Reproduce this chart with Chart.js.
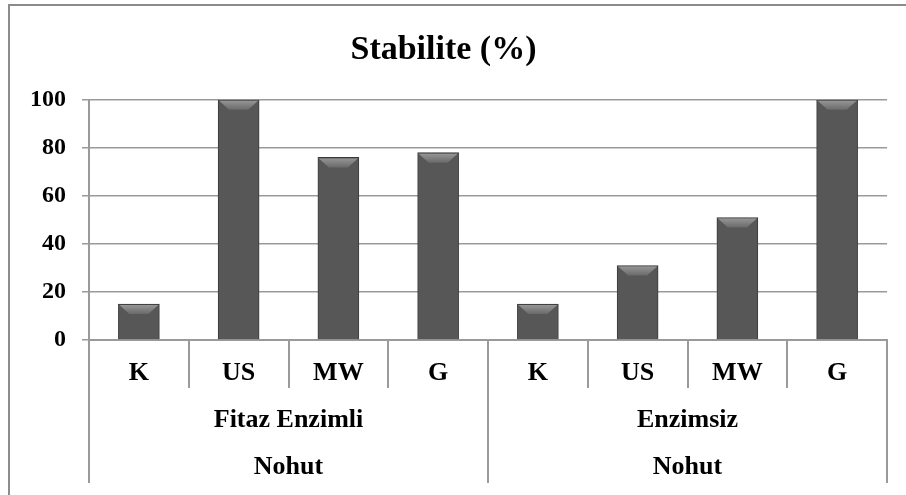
<!DOCTYPE html>
<html lang="en">
<head>
    <meta charset="UTF-8">
    <title>Stabilite (%)</title>
    <style>
        body {
            margin: 0;
            padding: 0;
            background: #fff;
        }
        .frame {
            position: absolute;
            left: 8px;
            top: 4px;
            width: 910px;
            height: 500px;
            border-left: 2px solid #8c8c8c;
            border-top: 2px solid #8c8c8c;
        }
        .wrap {
            position: absolute;
            left: 0;
            top: 0;
            width: 906px;
            height: 495px;
        }
    </style>
</head>
<body>
    <div class="frame"></div>
    <div class="wrap"><canvas id="chart"></canvas></div>

    <script src="https://cdn.jsdelivr.net/npm/chart.js@4.4.1/dist/chart.umd.min.js"></script>
    <script>
        // data
        const categories = ['K', 'US', 'MW', 'G', 'K', 'US', 'MW', 'G'];
        const groups = ['Fitaz Enzimli', 'Enzimsiz'];
        const outerGroup = 'Nohut';
        const groupSize = 4;
        const stabilite = [15, 100, 76, 78, 15, 31, 51, 100];
        const yTicks = [0, 20, 40, 60, 80, 100];

        const serif = '"Liberation Serif", "Times New Roman", serif';
        const lineGray = '#9a9a9a';

        // horizontal gradient for the bars, darker at the edges
        function barFill(context) {
            const el = context.element;
            const chart = context.chart;
            if (!el || !el.width) return '#575757';
            const x0 = el.x - el.width / 2;
            const g = chart.ctx.createLinearGradient(x0, 0, x0 + el.width, 0);
            g.addColorStop(0, '#3d3d3d');
            g.addColorStop(0.12, '#555555');
            g.addColorStop(0.5, '#5e5e5e');
            g.addColorStop(0.88, '#555555');
            g.addColorStop(1, '#3d3d3d');
            return g;
        }

        // bevel highlight on top of each bar
        const bevelPlugin = {
            id: 'bevel',
            afterDatasetsDraw(chart) {
                const ctx = chart.ctx;
                chart.getDatasetMeta(0).data.forEach(function(bar) {
                    const w = bar.width;
                    const left = bar.x - w / 2;
                    const top = bar.y;
                    const d = Math.min(10, (bar.base - bar.y) / 2);
                    const g = ctx.createLinearGradient(0, top, 0, top + d);
                    g.addColorStop(0, '#9a9a9a');
                    g.addColorStop(1, '#6a6a6a');
                    ctx.save();
                    ctx.fillStyle = g;
                    ctx.beginPath();
                    ctx.moveTo(left + 1, top + 1);
                    ctx.lineTo(left + w - 1, top + 1);
                    ctx.lineTo(left + w - 1 - d, top + d);
                    ctx.lineTo(left + 1 + d, top + d);
                    ctx.closePath();
                    ctx.fill();
                    ctx.restore();
                });
            }
        };

        // group labels and long separators under the category axis
        const groupAxisPlugin = {
            id: 'groupAxis',
            afterDraw(chart) {
                const ctx = chart.ctx;
                const xs = chart.scales.x;
                const half = (xs.getPixelForValue(1) - xs.getPixelForValue(0)) / 2;
                const bottom = chart.chartArea.bottom;
                ctx.save();
                ctx.strokeStyle = lineGray;
                ctx.lineWidth = 2;
                for (let g = 0; g <= groups.length; g++) {
                    const idx = Math.min(g * groupSize, categories.length - 1);
                    const x = g * groupSize < categories.length
                        ? xs.getPixelForValue(idx) - half
                        : xs.getPixelForValue(idx) + half;
                    ctx.beginPath();
                    ctx.moveTo(x, bottom);
                    ctx.lineTo(x, bottom + 143);
                    ctx.stroke();
                }
                ctx.fillStyle = '#000';
                ctx.font = 'bold 26px ' + serif;
                ctx.textAlign = 'center';
                ctx.textBaseline = 'middle';
                groups.forEach(function(name, g) {
                    const a = xs.getPixelForValue(g * groupSize) - half;
                    const b = xs.getPixelForValue(g * groupSize + groupSize - 1) + half;
                    ctx.fillText(name, (a + b) / 2, bottom + 80);
                    ctx.fillText(outerGroup, (a + b) / 2, bottom + 127);
                });
                ctx.restore();
            }
        };

        const ctx = document.getElementById('chart').getContext('2d');
        new Chart(ctx, {
            type: 'bar',
            data: {
                labels: categories,
                datasets: [{
                    label: 'Stabilite (%)',
                    data: stabilite,
                    backgroundColor: barFill,
                    borderColor: '#3a3a3a',
                    borderWidth: 1,
                    barThickness: 41
                }]
            },
            options: {
                responsive: true,
                maintainAspectRatio: false,
                animation: false,
                layout: { padding: { left: 0, right: 19, top: 0, bottom: 0 } },
                plugins: {
                    legend: { display: false },
                    tooltip: { enabled: false },
                    title: {
                        display: true,
                        text: 'Stabilite (%)',
                        color: '#000',
                        font: { family: serif, size: 34, weight: 'bold', lineHeight: 1.2 },
                        padding: { top: 30, bottom: 29 }
                    }
                },
                scales: {
                    x: {
                        afterFit(scale) { scale.height = 155; },
                        grid: {
                            offset: true,
                            drawOnChartArea: false,
                            drawTicks: true,
                            tickLength: 48,
                            color: lineGray,
                            lineWidth: 2
                        },
                        border: { display: true, color: lineGray, width: 2 },
                        ticks: {
                            color: '#000',
                            font: { family: serif, size: 26, weight: 'bold' },
                            padding: -30,
                            maxRotation: 0,
                            autoSkip: false
                        }
                    },
                    y: {
                        min: 0,
                        max: 100,
                        afterFit(scale) { scale.width = 89; },
                        afterBuildTicks(scale) {
                            scale.ticks = yTicks.map(function(v) { return { value: v }; });
                        },
                        grid: {
                            color: lineGray,
                            lineWidth: 1.5,
                            drawTicks: true,
                            tickLength: 7
                        },
                        border: { display: true, color: lineGray, width: 2 },
                        ticks: {
                            color: '#000',
                            font: { family: serif, size: 24, weight: 'bold' },
                            padding: 16
                        }
                    }
                }
            },
            plugins: [bevelPlugin, groupAxisPlugin]
        });
    </script>
</body>
</html>
